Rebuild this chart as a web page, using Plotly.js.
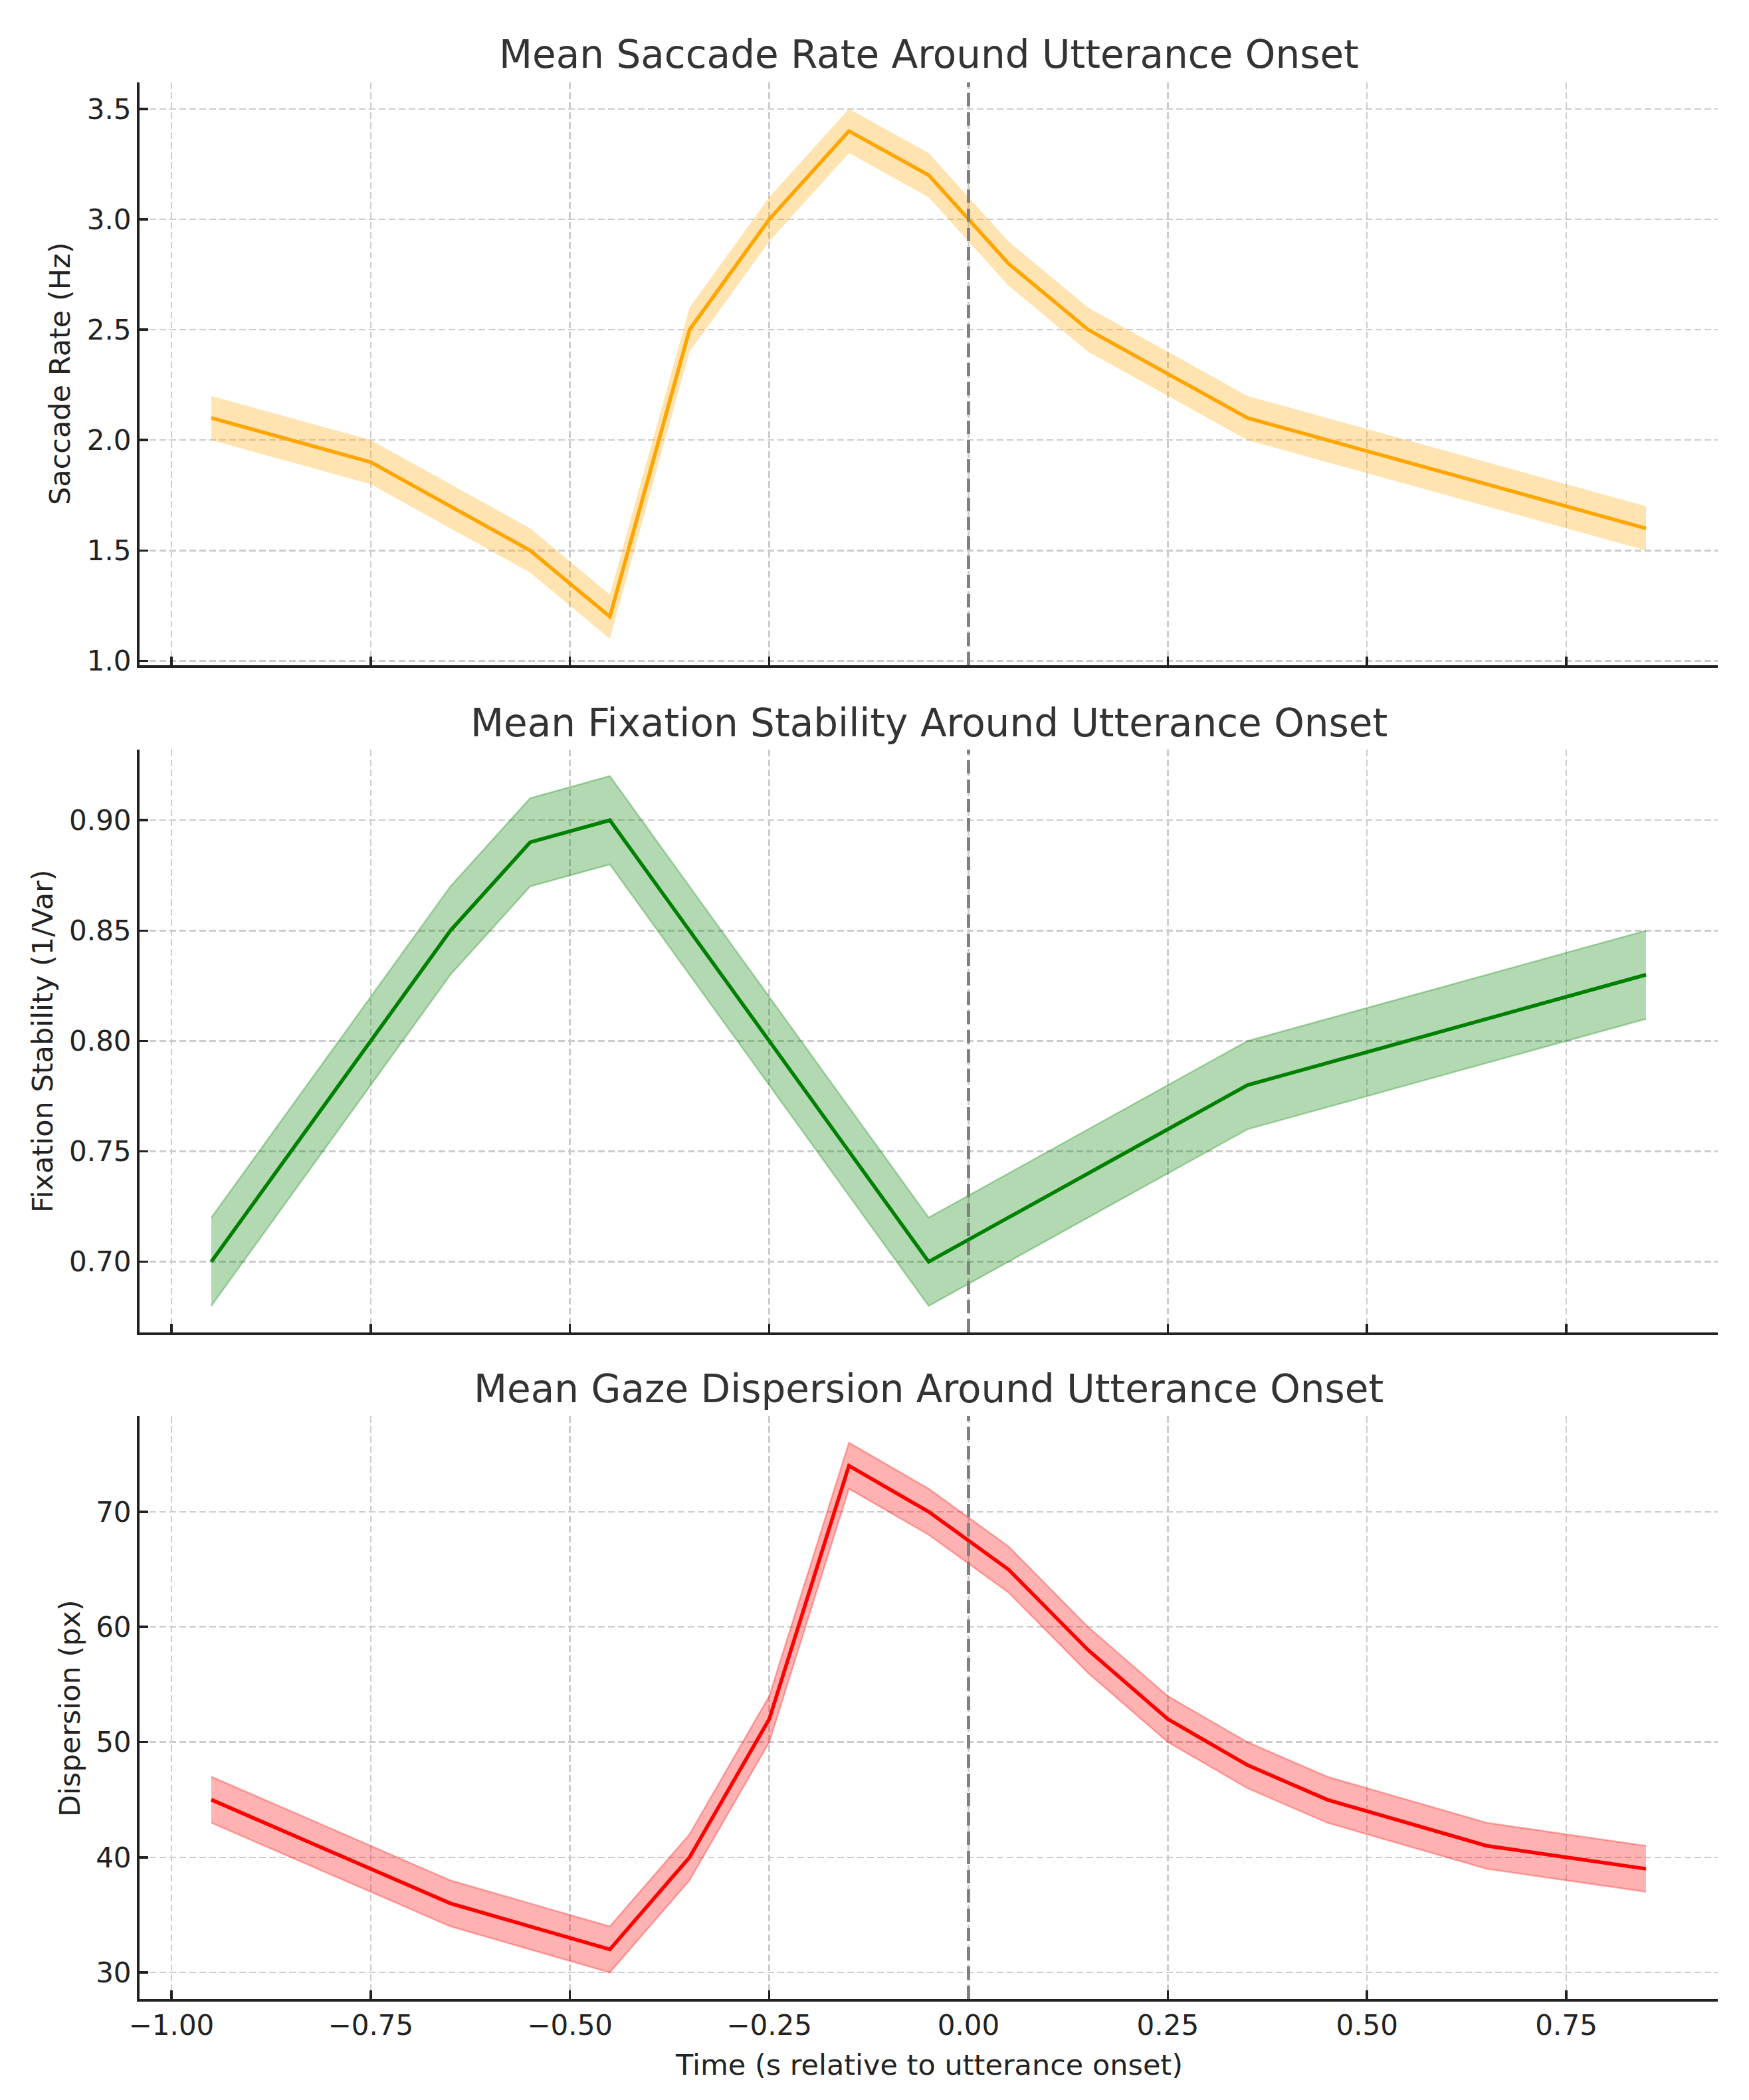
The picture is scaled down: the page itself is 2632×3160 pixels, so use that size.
<!DOCTYPE html>
<html>
<head>
<meta charset="utf-8">
<script src="https://cdn.plot.ly/plotly-3.0.1.min.js"></script>
<style>
  html, body { margin: 0; padding: 0; background: #ffffff; }
  #chart { width: 2632px; height: 3160px; }
</style>
</head>
<body>
<div id="chart"></div>
<script>
// ---- data ----
const timePoints = [-0.95, -0.85, -0.75, -0.65, -0.55, -0.45, -0.35, -0.25, -0.15, -0.05,
                    0.05, 0.15, 0.25, 0.35, 0.45, 0.55, 0.65, 0.75, 0.85];

const saccadeMean = [2.1, 2.0, 1.9, 1.7, 1.5, 1.2, 2.5, 3.0, 3.4, 3.2,
                     2.8, 2.5, 2.3, 2.1, 2.0, 1.9, 1.8, 1.7, 1.6];
const saccadeErr  = [0.1, 0.1, 0.1, 0.1, 0.1, 0.1, 0.1, 0.1, 0.1, 0.1,
                     0.1, 0.1, 0.1, 0.1, 0.1, 0.1, 0.1, 0.1, 0.1];

const fixationMean = [0.70, 0.75, 0.80, 0.85, 0.89, 0.90, 0.85, 0.80, 0.75, 0.70,
                      0.72, 0.74, 0.76, 0.78, 0.79, 0.80, 0.81, 0.82, 0.83];
const fixationErr  = [0.02, 0.02, 0.02, 0.02, 0.02, 0.02, 0.02, 0.02, 0.02, 0.02,
                      0.02, 0.02, 0.02, 0.02, 0.02, 0.02, 0.02, 0.02, 0.02];

const dispersionMean = [45, 42, 39, 36, 34, 32, 40, 52, 74, 70,
                        65, 58, 52, 48, 45, 43, 41, 40, 39];
const dispersionErr  = [2, 2, 2, 2, 2, 2, 2, 2, 2, 2,
                        2, 2, 2, 2, 2, 2, 2, 2, 2];

const panelTitles = ["Mean Saccade Rate Around Utterance Onset",
                     "Mean Fixation Stability Around Utterance Onset",
                     "Mean Gaze Dispersion Around Utterance Onset"];
const yTitles = ["Saccade Rate (Hz)", "Fixation Stability (1/Var)", "Dispersion (px)"];
const xTitle = "Time (s relative to utterance onset)";

const xTickVals = [-1.0, -0.75, -0.5, -0.25, 0.0, 0.25, 0.5, 0.75];
const xTickText = ["\u22121.00", "\u22120.75", "\u22120.50", "\u22120.25", "0.00", "0.25", "0.50", "0.75"];
const y1TickVals = [1.0, 1.5, 2.0, 2.5, 3.0, 3.5];
const y1TickText = ["1.0", "1.5", "2.0", "2.5", "3.0", "3.5"];
const y2TickVals = [0.70, 0.75, 0.80, 0.85, 0.90];
const y2TickText = ["0.70", "0.75", "0.80", "0.85", "0.90"];
const y3TickVals = [30, 40, 50, 60, 70];
const y3TickText = ["30", "40", "50", "60", "70"];

// ---- helpers ----
function add(a, b) { return a.map((v, i) => v + b[i]); }
function sub(a, b) { return a.map((v, i) => v - b[i]); }

function bandTraces(mean, err, rgb, edgeW, xa, ya) {
  const fillc = 'rgba(' + rgb + ',0.3)';
  const lower = {
    x: timePoints, y: sub(mean, err), type: 'scatter', mode: 'lines',
    line: { color: fillc, width: edgeW }, xaxis: xa, yaxis: ya,
    hoverinfo: 'skip', showlegend: false
  };
  const upper = {
    x: timePoints, y: add(mean, err), type: 'scatter', mode: 'lines',
    line: { color: fillc, width: edgeW }, fill: 'tonexty', fillcolor: fillc,
    xaxis: xa, yaxis: ya, hoverinfo: 'skip', showlegend: false
  };
  return [lower, upper];
}
function meanTrace(mean, color, xa, ya) {
  return {
    x: timePoints, y: mean, type: 'scatter', mode: 'lines',
    line: { color: color, width: 5.5 }, xaxis: xa, yaxis: ya, showlegend: false
  };
}

const traces = [].concat(
  bandTraces(saccadeMean, saccadeErr, '255,165,0', 0, 'x', 'y'),
  [meanTrace(saccadeMean, '#FFA500', 'x', 'y')],
  bandTraces(fixationMean, fixationErr, '0,128,0', 2.5, 'x2', 'y2'),
  [meanTrace(fixationMean, '#008000', 'x2', 'y2')],
  bandTraces(dispersionMean, dispersionErr, '255,0,0', 2.5, 'x3', 'y3'),
  [meanTrace(dispersionMean, '#FF0000', 'x3', 'y3')]
);

// ---- layout ----
const FONT = 'DejaVu Sans, Verdana, sans-serif';
const tickFont = { family: FONT, size: 42, color: '#222222' };

function xAxis(anchor, showLabels) {
  return {
    anchor: anchor, domain: [0, 1], range: [-1.04, 0.94],
    tickmode: 'array', tickvals: xTickVals, ticktext: xTickText,
    showticklabels: showLabels, tickfont: tickFont,
    ticks: 'inside', ticklen: 13, tickwidth: 3.5, tickcolor: '#222222',
    showline: true, linecolor: '#222222', linewidth: 4, mirror: false,
    showgrid: true, gridcolor: '#cccccc', gridwidth: 2.5, griddash: '10px,5px',
    zeroline: false, automargin: false
  };
}
function yAxis(anchor, domain, range, vals, text) {
  return {
    anchor: anchor, domain: domain, range: range,
    tickmode: 'array', tickvals: vals, ticktext: text, tickfont: tickFont,
    ticks: 'inside', ticklen: 13, tickwidth: 3.5, tickcolor: '#222222',
    showline: true, linecolor: '#222222', linewidth: 4, mirror: false,
    showgrid: true, gridcolor: '#cccccc', gridwidth: 2.5, griddash: '10px,5px',
    zeroline: false, automargin: false
  };
}

const titleFont = { family: FONT, size: 58, color: '#333333' };
const labelFont = { family: FONT, size: 43, color: '#222222' };

function vline(xa, ya) {
  return {
    type: 'line', xref: xa, yref: ya + ' domain', x0: 0, x1: 0, y0: 0, y1: 1,
    line: { color: '#808080', width: 5, dash: '20px,9px' }, layer: 'above'
  };
}

const layout = {
  width: 2632, height: 3160,
  margin: { l: 210, r: 47, t: 124, b: 152, pad: 0 },
  paper_bgcolor: '#ffffff', plot_bgcolor: '#ffffff',
  showlegend: false,
  xaxis: xAxis('y', false),
  yaxis: yAxis('x', [0.6959, 1.0], [0.98, 3.62], y1TickVals, y1TickText),
  xaxis2: xAxis('y2', false),
  yaxis2: yAxis('x2', [0.3478, 0.6519], [0.668, 0.932], y2TickVals, y2TickText),
  xaxis3: xAxis('y3', true),
  yaxis3: yAxis('x3', [0.0, 0.3041], [27.7, 78.3], y3TickVals, y3TickText),
  shapes: [vline('x', 'y'), vline('x2', 'y2'), vline('x3', 'y3')],
  annotations: [
    { text: panelTitles[0], xref: 'paper', yref: 'paper', x: 0.5, y: 1.01456,
      xanchor: 'center', yanchor: 'middle', showarrow: false, font: titleFont },
    { text: panelTitles[1], xref: 'paper', yref: 'paper', x: 0.5, y: 0.66574,
      xanchor: 'center', yanchor: 'middle', showarrow: false, font: titleFont },
    { text: panelTitles[2], xref: 'paper', yref: 'paper', x: 0.5, y: 0.31831,
      xanchor: 'center', yanchor: 'middle', showarrow: false, font: titleFont },
    { text: yTitles[0], xref: 'paper', yref: 'paper', x: (90 - 210) / 2375, y: (3008 - 563) / 2884,
      xanchor: 'center', yanchor: 'middle', textangle: -90, showarrow: false, font: labelFont },
    { text: yTitles[1], xref: 'paper', yref: 'paper', x: (64 - 210) / 2375, y: (3008 - 1567) / 2884,
      xanchor: 'center', yanchor: 'middle', textangle: -90, showarrow: false, font: labelFont },
    { text: yTitles[2], xref: 'paper', yref: 'paper', x: (105 - 210) / 2375, y: (3008 - 2571) / 2884,
      xanchor: 'center', yanchor: 'middle', textangle: -90, showarrow: false, font: labelFont },
    { text: xTitle, xref: 'paper', yref: 'paper', x: 0.5, y: (3008 - 3107) / 2884,
      xanchor: 'center', yanchor: 'middle', showarrow: false, font: labelFont }
  ]
};

Plotly.newPlot('chart', traces, layout, { staticPlot: true, displayModeBar: false });
</script>
</body>
</html>
